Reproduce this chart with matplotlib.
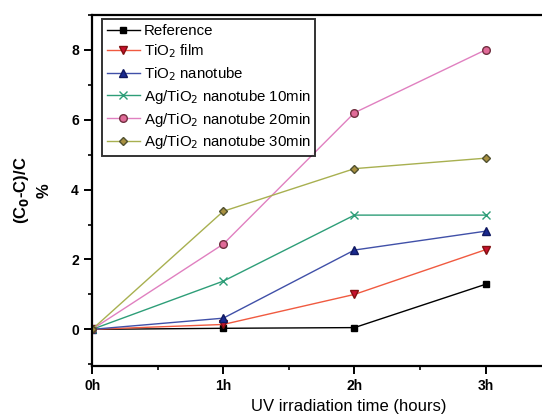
import numpy as np
import matplotlib.pyplot as plt
from matplotlib.ticker import MultipleLocator

plt.rcParams['font.family'] = ['Liberation Sans', 'DejaVu Sans']

hours = [0, 1, 2, 3]
hour_labels = ['0h', '1h', '2h', '3h']

reference = [0, 0.03, 0.05, 1.29]
tio2_film = [0, 0.14, 1.0, 2.28]
tio2_nanotube = [0, 0.32, 2.27, 2.81]
ag_10min = [0, 1.38, 3.27, 3.27]
ag_20min = [0, 2.44, 6.2, 8.0]
ag_30min = [0, 3.38, 4.6, 4.9]

fig = plt.figure(figsize=(5.42, 4.15), dpi=100)
ax = fig.add_axes([0.170, 0.118, 0.830, 0.846])

ax.plot(hours, reference, color='black', lw=1.0, marker='s', ms=4.5,
        mfc='black', mec='black', label='Reference')
ax.plot(hours, tio2_film, color='#f05a40', lw=1.0, marker='v', ms=5.5,
        mfc='#c8102e', mec='#801010', label='TiO$_2$ film')
ax.plot(hours, tio2_nanotube, color='#4050a8', lw=1.0, marker='^', ms=5.5,
        mfc='#1a2a90', mec='#101860', label='TiO$_2$ nanotube')
ax.plot(hours, ag_10min, color='#2e9e78', lw=1.0, marker='x', ms=5.5,
        mew=1.0, label='Ag/TiO$_2$ nanotube 10min')
ax.plot(hours, ag_20min, color='#e080c0', lw=1.0, marker='o', ms=5.5,
        mfc='#e06a98', mec='#703040', label='Ag/TiO$_2$ nanotube 20min')
ax.plot(hours, ag_30min, color='#a8b050', lw=1.0, marker='D', ms=4.5,
        mfc='#a89040', mec='#505030', label='Ag/TiO$_2$ nanotube 30min')

ax.set_xlim(0, 3.43)
ax.set_ylim(-1.05, 9.0)
ax.set_xticks(hours)
ax.set_xticklabels(hour_labels)
ax.xaxis.set_minor_locator(MultipleLocator(0.5))
ax.set_yticks([0, 2, 4, 6, 8])
ax.yaxis.set_minor_locator(MultipleLocator(1))

ax.spines['right'].set_visible(False)
for s in ['left', 'bottom', 'top']:
    ax.spines[s].set_linewidth(1.6)
ax.tick_params(which='major', direction='out', length=6, width=1.4,
               labelsize=10, top=False, right=False)
ax.tick_params(which='minor', direction='out', length=3, width=1.2,
               top=False, right=False)
for lbl in ax.get_xticklabels() + ax.get_yticklabels():
    lbl.set_fontweight('bold')

ax.set_xlabel('UV irradiation time (hours)', fontsize=12)
ax.xaxis.set_label_coords(0.571, -0.094)
ax.set_ylabel('(C$_\\mathbf{0}$-C)/C\n%', fontsize=12, fontweight='bold',
              labelpad=14, linespacing=1.45)

leg = ax.legend(loc='upper left', bbox_to_anchor=(0.012, 1.0), fontsize=10.8,
                frameon=True, fancybox=False, edgecolor='black',
                handlelength=2.2, handletextpad=0.3, labelspacing=0.32,
                borderpad=0.3, borderaxespad=0.3)
leg.get_frame().set_linewidth(1.4)

fig.savefig('out.png', dpi=100)
